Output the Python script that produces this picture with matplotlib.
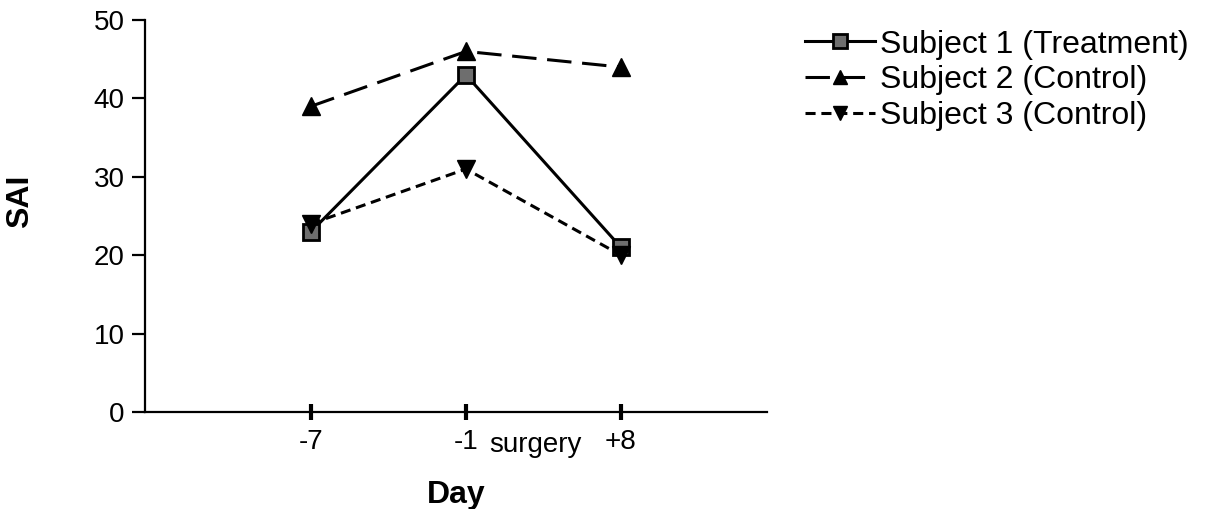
import matplotlib.pyplot as plt

plt.rcParams['font.family'] = ['Liberation Sans', 'DejaVu Sans']

days = ['-7', '-1', '+8']
positions = [1, 2, 3]
subject1 = [23, 43, 21]
subject2 = [39, 46, 44]
subject3 = [24, 31, 20]

fig = plt.figure(figsize=(12.06, 5.09), dpi=100)
ax = fig.add_axes([0.1202, 0.1906, 0.5158, 0.770])

ax.plot(positions, subject1, color='black', lw=2.2, linestyle='-',
        marker='s', ms=12, markerfacecolor='#6e6e6e', markeredgecolor='black',
        markeredgewidth=2, label='Subject 1 (Treatment)')
ax.plot(positions, subject2, color='black', lw=2.2, dashes=(8, 3.5),
        marker='^', ms=13, markerfacecolor='black', markeredgecolor='black',
        label='Subject 2 (Control)')
ax.plot(positions, subject3, color='black', lw=2.2, dashes=(3.3, 1.9),
        marker='v', ms=13, markerfacecolor='black', markeredgecolor='black',
        label='Subject 3 (Control)')

ax.set_xlim(-0.071, 3.942)
ax.set_ylim(0, 50)
ax.set_yticks([0, 10, 20, 30, 40, 50])
ax.set_xticks(positions)
ax.set_xticklabels(days)

for side in ['top', 'right']:
    ax.spines[side].set_visible(False)
for side in ['left', 'bottom']:
    ax.spines[side].set_linewidth(1.6)

ax.tick_params(axis='y', direction='out', length=9.5, width=1.6, labelsize=20, pad=5)
ax.tick_params(axis='x', direction='inout', length=12, width=3, labelsize=20, pad=6)

# label between the -1 and +8 ticks marking surgery, on the tick-label baseline
ax.text(2.45, -0.102, 'surgery', transform=ax.get_xaxis_transform(),
        ha='center', va='baseline', fontsize=20)

ax.set_xlabel('Day', fontsize=23, fontweight='bold', labelpad=18)
ax.set_ylabel('SAI', fontsize=23, fontweight='bold')
ax.yaxis.label.set_va('center')
ax.yaxis.set_label_coords(-0.201, 0.538)

fig.legend(loc='upper left', bbox_to_anchor=(0.6675, 0.942), frameon=False,
           fontsize=23, handlelength=2.2, handletextpad=0.15, labelspacing=0.18,
           markerscale=0.8, borderpad=0, borderaxespad=0)

fig.savefig('out.png', dpi=100)
